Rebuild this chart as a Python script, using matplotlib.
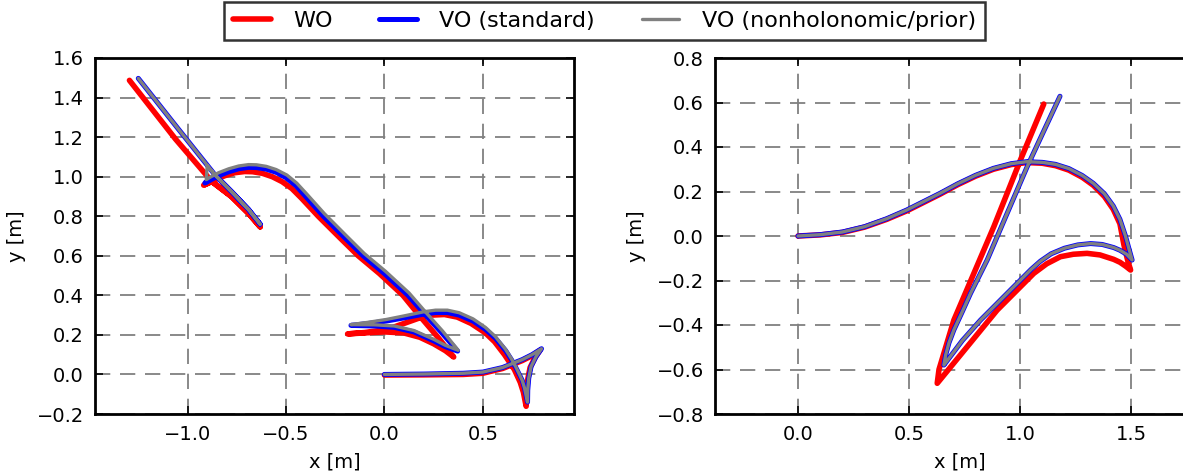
import matplotlib
matplotlib.use('Agg')
import matplotlib.pyplot as plt

plt.rcParams['font.family'] = 'DejaVu Sans'
plt.rcParams['lines.scale_dashes'] = False

# ---- left run ----
wo_l_x = [0.0, 0.2, 0.4, 0.5, 0.6, 0.7, 0.75, 0.79,
          0.765, 0.74, 0.727, 0.722, 0.72,
          0.706, 0.69, 0.66, 0.61, 0.56, 0.513, 0.44, 0.37, 0.305, 0.24, 0.185, 0.1, 0.012, -0.1, -0.187,
          -0.1, 0.0, 0.098, 0.18, 0.25, 0.31, 0.352,
          0.27, 0.18, 0.094, -0.025, -0.133, -0.225, -0.336, -0.42, -0.47, -0.52, -0.57, -0.62, -0.67,
          -0.71, -0.76, -0.81, -0.86, -0.918,
          -0.876, -0.775, -0.69, -0.631,
          -0.69, -0.775, -0.876, -1.061, -1.295]
wo_l_y = [-0.003, -0.002, 0.0, 0.006, 0.03, 0.07, 0.095, 0.122,
          0.085, 0.035, -0.03, -0.1, -0.161,
          -0.09, -0.04, 0.025, 0.1, 0.165, 0.21, 0.258, 0.29, 0.303, 0.3, 0.288, 0.258, 0.227, 0.212, 0.205,
          0.21, 0.215, 0.21, 0.188, 0.155, 0.12, 0.088,
          0.19, 0.295, 0.4, 0.51, 0.6, 0.69, 0.8, 0.89, 0.94, 0.975, 1.0, 1.017, 1.025,
          1.026, 1.02, 1.005, 0.985, 0.957,
          0.975, 0.898, 0.814, 0.746,
          0.814, 0.898, 0.975, 1.19, 1.487]

vo_std_l_x = [0.0, 0.2, 0.4, 0.5, 0.6, 0.7, 0.75, 0.798,
              0.77, 0.745, 0.733, 0.728, 0.727,
              0.712, 0.70, 0.685, 0.668, 0.645, 0.616, 0.564, 0.513, 0.45, 0.38, 0.32, 0.26, 0.2, 0.1, 0.01,
              -0.08, -0.17,
              -0.05, 0.05, 0.15, 0.25, 0.31, 0.372,
              0.29, 0.2, 0.12, 0.0, -0.108, -0.2, -0.31, -0.4, -0.45, -0.5, -0.55, -0.6, -0.65,
              -0.69, -0.74, -0.79, -0.842, -0.88, -0.912,
              -0.859, -0.775, -0.69, -0.631,
              -0.69, -0.775, -0.859, -1.05, -1.25]
vo_std_l_y = [0.0, 0.002, 0.006, 0.012, 0.035, 0.075, 0.10, 0.13,
              0.09, 0.04, -0.02, -0.08, -0.14,
              -0.07, -0.03, 0.0, 0.034, 0.075, 0.12, 0.183, 0.228, 0.27, 0.3, 0.313, 0.313, 0.305, 0.286, 0.27,
              0.258, 0.248,
              0.245, 0.238, 0.215, 0.17, 0.14, 0.118,
              0.212, 0.31, 0.4, 0.51, 0.6, 0.69, 0.8, 0.9, 0.955, 0.995, 1.022, 1.038, 1.046,
              1.047, 1.04, 1.025, 1.005, 0.985, 0.968,
              1.007, 0.923, 0.834, 0.76,
              0.834, 0.923, 1.007, 1.245, 1.497]

vo_prior_l_x = [0.0, 0.2, 0.4, 0.5, 0.6, 0.7, 0.75, 0.798,
                0.77, 0.745, 0.733, 0.728, 0.727,
                0.712, 0.70, 0.685, 0.668, 0.645, 0.616, 0.564, 0.513, 0.45, 0.38, 0.32, 0.26, 0.2, 0.1, 0.01,
                -0.08, -0.17,
                -0.05, 0.05, 0.15, 0.25, 0.31, 0.375,
                0.295, 0.205, 0.125, 0.005, -0.103, -0.195, -0.305, -0.395, -0.445, -0.495, -0.55, -0.6, -0.65,
                -0.69, -0.74, -0.79, -0.842, -0.88, -0.905,
                -0.9, -0.859, -0.775, -0.69, -0.631,
                -0.69, -0.775, -0.859, -1.05, -1.25]
vo_prior_l_y = [0.0, 0.002, 0.006, 0.012, 0.035, 0.075, 0.10, 0.13,
                0.09, 0.04, -0.02, -0.08, -0.14,
                -0.07, -0.03, 0.002, 0.037, 0.08, 0.126, 0.191, 0.238, 0.281, 0.312, 0.325, 0.325, 0.317, 0.296,
                0.278, 0.264, 0.252,
                0.251, 0.245, 0.222, 0.178, 0.147, 0.122,
                0.22, 0.32, 0.412, 0.522, 0.612, 0.703, 0.813, 0.913, 0.967, 1.008, 1.036, 1.052, 1.06,
                1.061, 1.054, 1.04, 1.02, 1.0, 0.985,
                1.055, 1.007, 0.923, 0.834, 0.76,
                0.834, 0.923, 1.007, 1.245, 1.497]

# ---- right run ----
wo_r_x = [0.0, 0.1, 0.2, 0.3, 0.4, 0.49, 0.57, 0.64, 0.72, 0.8, 0.88, 0.96, 1.03, 1.1, 1.16, 1.22, 1.28,
          1.33, 1.38, 1.42, 1.45, 1.468, 1.485, 1.498,
          1.475, 1.45, 1.422, 1.36, 1.302, 1.24, 1.182, 1.12, 1.062, 0.98, 0.897, 0.76, 0.627,
          0.635, 0.657, 0.702, 0.792, 0.882, 1.002, 1.107]
wo_r_y = [0.0, 0.005, 0.016, 0.04, 0.075, 0.113, 0.153, 0.188, 0.231, 0.269, 0.3, 0.321, 0.33, 0.327, 0.316,
          0.296, 0.264, 0.228, 0.178, 0.12, 0.055, -0.04, -0.11, -0.153,
          -0.135, -0.118, -0.105, -0.085, -0.078, -0.082, -0.093, -0.125, -0.168, -0.25, -0.333, -0.5, -0.662,
          -0.6, -0.527, -0.378, -0.168, 0.042, 0.342, 0.593]

vo_std_r_x = [0.0, 0.1, 0.2, 0.3, 0.4, 0.49, 0.57, 0.64, 0.72, 0.8, 0.88, 0.96, 1.03, 1.1, 1.16, 1.22, 1.28,
              1.33, 1.38, 1.42, 1.45, 1.475, 1.49, 1.505,
              1.48, 1.45, 1.422, 1.37, 1.318, 1.26, 1.2, 1.14, 1.092, 1.05, 1.002, 0.92, 0.822, 0.74, 0.657,
              0.665, 0.68, 0.702, 0.74, 0.777, 0.852, 0.942, 1.032, 1.1, 1.18]
vo_std_r_y = [0.0, 0.006, 0.018, 0.042, 0.078, 0.117, 0.157, 0.192, 0.235, 0.273, 0.304, 0.325, 0.334, 0.331,
              0.322, 0.303, 0.272, 0.237, 0.19, 0.135, 0.075, 0.0, -0.055, -0.108,
              -0.082, -0.064, -0.052, -0.038, -0.034, -0.04, -0.055, -0.08, -0.113, -0.15, -0.198, -0.28, -0.378,
              -0.47, -0.58,
              -0.535, -0.48, -0.422, -0.34, -0.258, -0.108, 0.102, 0.311, 0.457, 0.628]

# nonholonomic/prior run sits on top of the standard one here
vo_prior_r_x = vo_std_r_x
vo_prior_r_y = vo_std_r_y

labels = ['WO', 'VO (standard)', 'VO (nonholonomic/prior)']
colors = ['#ff0000', '#0000ff', '#808080']
widths = [4.0, 3.6, 2.4]

W, H = 1183, 474
fig = plt.figure(figsize=(W / 100, H / 100), dpi=100)
ax1 = fig.add_axes([95 / W, (H - 414) / H, 479 / W, 356 / H])
ax2 = fig.add_axes([715 / W, (H - 414) / H, 490 / W, 356 / H])

runs = [
    (ax1, [(wo_l_x, wo_l_y), (vo_std_l_x, vo_std_l_y), (vo_prior_l_x, vo_prior_l_y)]),
    (ax2, [(wo_r_x, wo_r_y), (vo_std_r_x, vo_std_r_y), (vo_prior_r_x, vo_prior_r_y)]),
]

handles = []
for ax, series in runs:
    hs = []
    for (xs, ys), lab, c, lw in zip(series, labels, colors, widths):
        h, = ax.plot(xs, ys, color=c, lw=lw, label=lab, solid_joinstyle='round',
                     solid_capstyle='round')
        hs.append(h)
    handles = hs
    ax.grid(True, color='#808080', lw=1.3, linestyle=(0, (11, 7)))
    ax.set_axisbelow(True)
    ax.tick_params(direction='in', top=True, right=True, length=6, width=1.2,
                   labelsize=14, pad=8)
    for s in ax.spines.values():
        s.set_linewidth(2)
    ax.set_xlabel('x [m]', fontsize=14, labelpad=6)
    ax.set_ylabel('y [m]', fontsize=14, labelpad=8)

ax1.set_xlim(-1.47, 0.963)
ax1.set_ylim(-0.2, 1.6)
ax1.set_xticks([-1.0, -0.5, 0.0, 0.5])
ax1.set_yticks([-0.2, 0.0, 0.2, 0.4, 0.6, 0.8, 1.0, 1.2, 1.4, 1.6])

ax2.set_xlim(-0.374, -0.374 + 490 / 222.0)
ax2.set_ylim(-0.8, 0.8)
ax2.set_xticks([0.0, 0.5, 1.0, 1.5])
ax2.set_yticks([-0.8, -0.6, -0.4, -0.2, 0.0, 0.2, 0.4, 0.6, 0.8])

leg = fig.legend(handles, labels, loc='upper center', bbox_to_anchor=(0.511, 0.995),
                 ncol=3, fontsize=16, frameon=True, fancybox=False,
                 handlelength=1.7, handletextpad=1.0, columnspacing=2.1,
                 borderpad=0.4, borderaxespad=0.0)
leg.get_frame().set_edgecolor('black')
leg.get_frame().set_linewidth(1.8)

fig.savefig('out.png', dpi=100)
